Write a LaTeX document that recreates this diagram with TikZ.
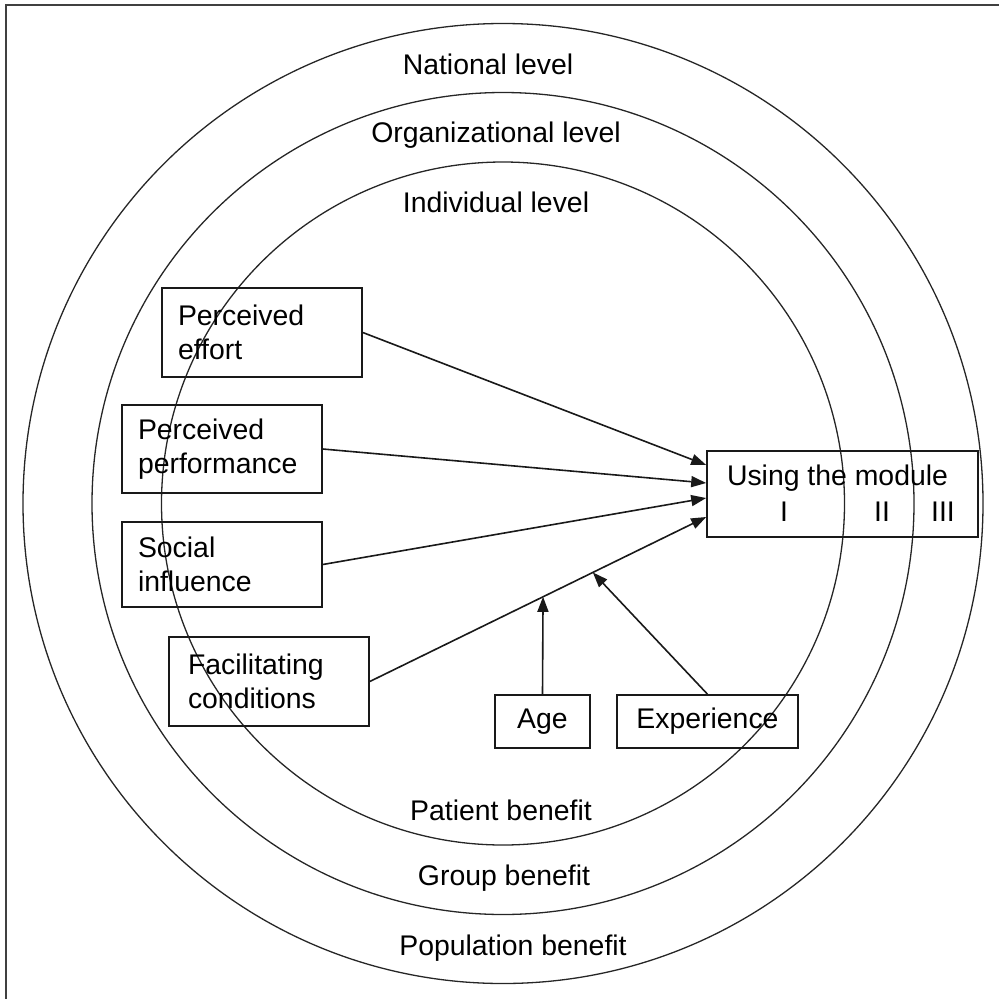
\documentclass[tikz,border=0pt]{standalone}
\usepackage{fontspec}
\setmainfont{Liberation Sans}
\usetikzlibrary{arrows.meta,calc}
\begin{document}
\begin{tikzpicture}[x=1pt,y=-1pt,
  ring/.style={draw=black!85, line width=1.3pt},
  boxnode/.style={draw=black!90, line width=1.6pt, rectangle, inner sep=0pt},
  txtbox/.style={boxnode, align=left, text width=168pt, inner xsep=16pt, minimum width=200pt},
  lbl/.style={anchor=base, inner sep=0pt},
  conn/.style={draw=black!90, line width=1.6pt, -{Triangle[length=15pt,width=11pt]}},
  font=\fontsize{28.4}{34}\selectfont]
\useasboundingbox (0,0) rectangle (999,999);
% frame (top and left edges)
\draw[line width=2pt, draw=black!75] (6,999) -- (6,5) -- (999,5);
% concentric levels
\draw[ring] (503,503.5) circle[radius=480pt];
\draw[ring] (503,503.5) circle[radius=411pt];
\draw[ring] (503,503.5) circle[radius=341.5pt];
% level labels
\node[lbl] (nat) at (488,74) {National level};
\node[lbl] (org) at (496,142) {Organizational level};
\node[lbl] (ind) at (496,212) {Individual level};
\node[lbl] (pat) at (501,820) {Patient benefit};
\node[lbl] (grp) at (504,885) {Group benefit};
\node[lbl] (pop) at (513,955) {Population benefit};
% boxes
\node[txtbox, minimum height=89pt] (pe) at (262,332.5) {Perceived\\effort};
\node[txtbox, minimum height=88pt] (pp) at (222,449) {Perceived\\performance};
\node[txtbox, minimum height=85pt] (si) at (222,564.5) {Social\\influence};
\node[txtbox, minimum height=89pt, inner xsep=19pt, text width=162pt] (fc) at (269,681.5) {Facilitating\\conditions};
\node[boxnode, minimum width=95pt, minimum height=53pt] (age) at (542.5,721.5) {Age};
\node[boxnode, minimum width=181pt, minimum height=53pt] (exp) at (707.5,721.5) {Experience};
\node[boxnode, minimum width=271pt, minimum height=86pt] (use) at (842.5,494) {};
\node[lbl] (uset) at (837.5,485) {Using the module};
\node[lbl] (u1) at (784,521) {I};
\node[lbl] (u2) at (882,521) {II};
\node[lbl] (u3) at (943,521) {III};
% arrow targets
\coordinate (t1) at ([yshift=29pt]use.west);
\coordinate (t2) at ([yshift=11pt]use.west);
\coordinate (t3) at ([yshift=-4pt]use.west);
\coordinate (t4) at ([yshift=-23pt]use.west);
\draw[conn] (pe.east) -- (t1);
\draw[conn] (pp.east) -- (t2);
\draw[conn] (si.east) -- (t3);
\draw[conn] (fc.east) -- (t4);
\coordinate (ma) at ($(fc.east)!0.515!(t4)$);
\coordinate (me) at ($(fc.east)!0.663!(t4)$);
\draw[conn] (age.north) -- (ma);
\draw[conn] (exp.north) -- (me);
\end{tikzpicture}
\end{document}
